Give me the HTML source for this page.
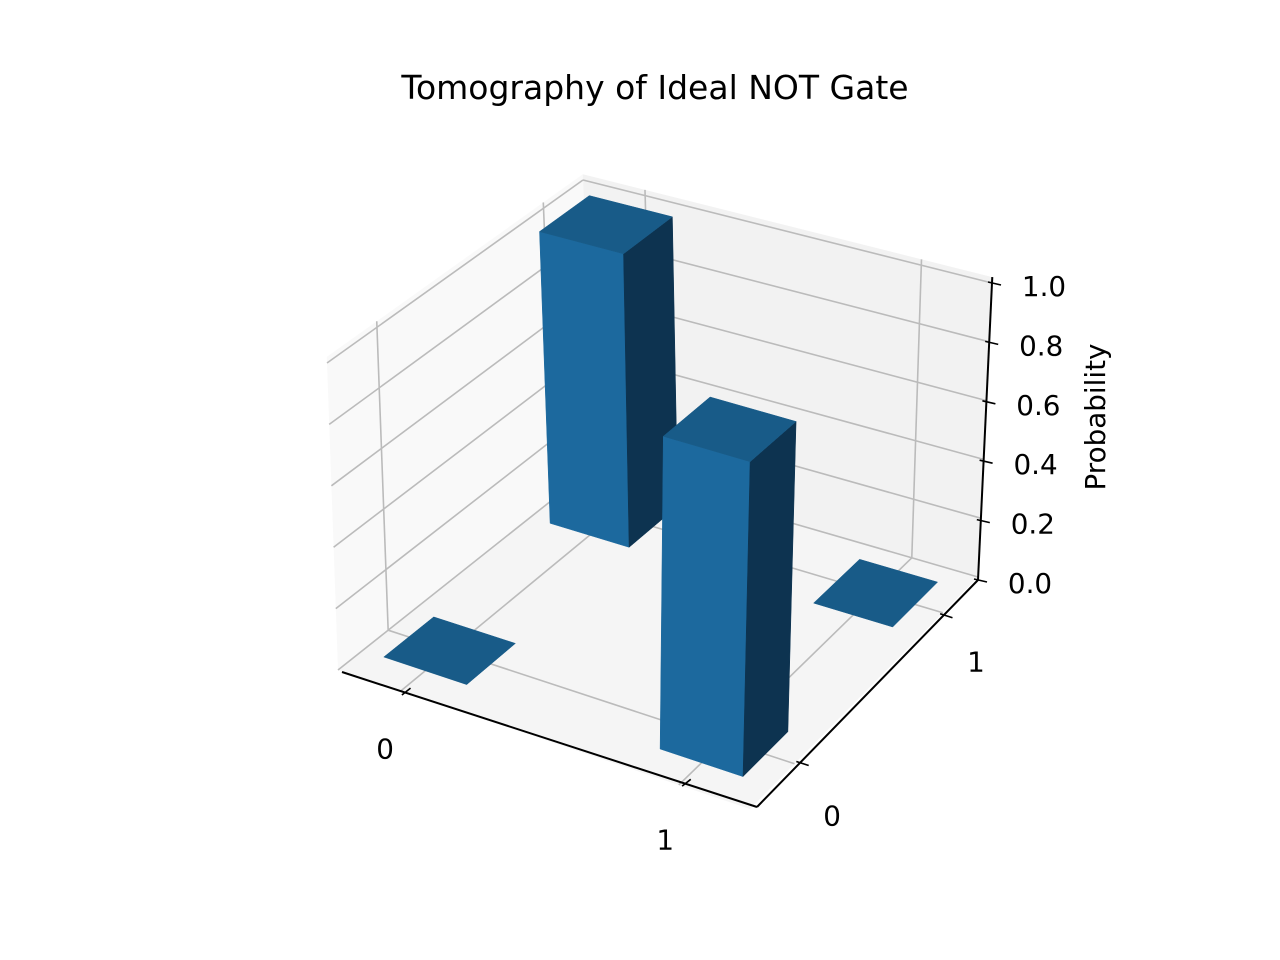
<!DOCTYPE html>
<html><head><meta charset="utf-8"><style>
html,body{margin:0;padding:0;background:#fff;}
svg{display:block;font-family:"DejaVu Sans","Liberation Sans",sans-serif;}
</style></head><body>
<svg id="chart" width="1280" height="960" viewBox="0 0 1280 960" xmlns="http://www.w3.org/2000/svg">
<rect width="1280" height="960" fill="#fff"/>
<text x="655" y="99" font-size="33" text-anchor="middle" fill="#000">Tomography of Ideal NOT Gate</text>
<g id="panes"></g>
<g id="grid"></g>
<g id="axes"></g>
<g id="bars"></g>
<text x="1105" y="417" font-size="27.8" text-anchor="middle" transform="rotate(-90 1105 417)">Probability</text>
</svg>
<script>
const xCategories = [0, 1];
const yCategories = [0, 1];
// probability[xIndex][yIndex]
const probability = [[0, 1], [1, 0]];
const xTickLabels = ["0", "1"];
const yTickLabels = ["0", "1"];
const zTicks = [0, 0.2, 0.4, 0.6, 0.8, 1.0];
const zTickLabels = ["0.0", "0.2", "0.4", "0.6", "0.8", "1.0"];

const XMIN = -0.225, XMAX = 1.256, YMIN = -0.3, YMAX = 1.237, ZTOP = 1.02;
const BAR_W = 0.3;
// screen corners of the axes box at z=0 and z=1
const A0=[338,670], B0=[750,809], C0=[978,577], D0=[595,466];
const A1=[327,363], B1=[758,491], C1=[992,283], D1=[583,180];
const NS = "http://www.w3.org/2000/svg";

function bil(P, Q, R, S, u, v) {
  const a=(1-u)*(1-v), b=u*(1-v), c=u*v, d=(1-u)*v;
  return [a*P[0]+b*Q[0]+c*R[0]+d*S[0], a*P[1]+b*Q[1]+c*R[1]+d*S[1]];
}
function proj(x, y, z) {
  const u=(x-XMIN)/(XMAX-XMIN), v=(y-YMIN)/(YMAX-YMIN);
  const p0=bil(A0,B0,C0,D0,u,v), p1=bil(A1,B1,C1,D1,u,v);
  return [p0[0]+(p1[0]-p0[0])*z, p0[1]+(p1[1]-p0[1])*z];
}
function lerp(p,q,t){return [p[0]+(q[0]-p[0])*t, p[1]+(q[1]-p[1])*t];}
function pts(list){return list.map(p=>p[0].toFixed(1)+","+p[1].toFixed(1)).join(" ");}
function mk(tag, attrs, parent){
  const el=document.createElementNS(NS, tag);
  for (const k in attrs) el.setAttribute(k, attrs[k]);
  parent.appendChild(el);
  return el;
}

const panes=document.getElementById('panes');
let el;
el = mk('polygon',{points:pts([proj(XMIN,YMIN,0),proj(XMIN,YMAX,0),proj(XMIN,YMAX,ZTOP),proj(XMIN,YMIN,ZTOP)]),fill:'#f9f9f9'},panes);


el = mk('polygon',{points:pts([proj(XMIN,YMAX,0),proj(XMAX,YMAX,0),proj(XMAX,YMAX,ZTOP),proj(XMIN,YMAX,ZTOP)]),fill:'#f2f2f2'},panes);


el = mk('polygon',{points:pts([proj(XMIN,YMIN,0),proj(XMAX,YMIN,0),proj(XMAX,YMAX,0),proj(XMIN,YMAX,0)]),fill:'#f5f5f5'},panes);



const grid=document.getElementById('grid');
const gs={stroke:'#bbbbbb','stroke-width':1.6,fill:'none'};
function gline(p,q,name){
  const l=mk('line',Object.assign({x1:p[0],y1:p[1],x2:q[0],y2:q[1]},gs),grid);
  
  
}
xCategories.forEach(x=>{
  gline(proj(x,YMIN,0),proj(x,YMAX,0),'x-gridline-floor');
  gline(proj(x,YMAX,0),proj(x,YMAX,ZTOP),'x-gridline-wall');
});
yCategories.forEach(y=>{
  gline(proj(XMIN,y,0),proj(XMAX,y,0),'y-gridline-floor');
  gline(proj(XMIN,y,0),proj(XMIN,y,ZTOP),'y-gridline-wall');
});
zTicks.forEach(z=>{
  gline(proj(XMIN,YMIN,z),proj(XMIN,YMAX,z),'z-gridline-left');
  gline(proj(XMIN,YMAX,z),proj(XMAX,YMAX,z),'z-gridline-back');
});

// axes
const axes=document.getElementById('axes');
const XA0=[342,672], XA1=[757,807], YA0=[757,807], YA1=[978,580];
const ZA0=[978,580], ZA1=[992,283];
function xAxisPt(x){return lerp(XA0,XA1,(x-XMIN)/(XMAX-XMIN));}
function yAxisPt(y){return lerp(YA0,YA1,(y-YMIN)/(YMAX-YMIN));}
function zAxisPt(z){return lerp(ZA0,ZA1,z);}
function aline(p,q,name,w){
  const l=mk('line',{x1:p[0],y1:p[1],x2:q[0],y2:q[1],stroke:'#000','stroke-width':w||2},axes);
  
  
}
function txt(p,s,name){
  const t=mk('text',{x:p[0],y:p[1]+10,'font-size':27.8,'text-anchor':'middle',fill:'#000'},axes);
  t.textContent=s;
  
  
}
aline(XA0,XA1,'x-axis-line');
aline(YA0,YA1,'y-axis-line');
aline(ZA0,zAxisPt(ZTOP),'z-axis-line');
const ux=[(XA1[0]-XA0[0]),(XA1[1]-XA0[1])], lx=Math.hypot(ux[0],ux[1]);
const dY=[(D0[0]-A0[0])/Math.hypot(D0[0]-A0[0],D0[1]-A0[1]),(D0[1]-A0[1])/Math.hypot(D0[0]-A0[0],D0[1]-A0[1])];
xCategories.forEach((x,i)=>{
  const p=xAxisPt(x);
  aline([p[0]-dY[0]*4,p[1]-dY[1]*4],[p[0]+dY[0]*7,p[1]+dY[1]*7],'x-tick',1.6);
  txt([p[0]-20,p[1]+56],xTickLabels[i],'x-tick-label');
});
yCategories.forEach((y,i)=>{
  const p=yAxisPt(y);
  const d=[ux[0]/lx,ux[1]/lx];
  const f=(y-YMIN)/(YMAX-YMIN);
  aline([p[0]-d[0]*4,p[1]-d[1]*4],[p[0]+d[0]*9,p[1]+d[1]*9],'y-tick',1.6);
  txt([p[0]+32,p[1]+55-10*f],yTickLabels[i],'y-tick-label');
});
zTicks.forEach((z,i)=>{
  const p=zAxisPt(z);
  aline([p[0]-4,p[1]-1],[p[0]+9,p[1]+2],'z-tick',1.6);
  txt([p[0]+52,p[1]+3],zTickLabels[i],'z-tick-label');
});

// bars
const barsG=document.getElementById('bars');
const barList=[];
xCategories.forEach((x,i)=>yCategories.forEach((y,j)=>barList.push({x:x,y:y,h:probability[i][j]})));
barList.sort((a,b)=>(b.y-b.x)-(a.y-a.x));
barList.forEach(b=>{
  const x0=b.x-BAR_W/2, x1=b.x+BAR_W/2, y0=b.y-BAR_W/2, y1=b.y+BAR_W/2, h=b.h;
  const g=mk('g',{},barsG);
  
  
  if (h>0){
    const f=mk('polygon',{points:pts([proj(x0,y0,0),proj(x1,y0,0),proj(x1,y0,h),proj(x0,y0,h)]),fill:'#1c699e',stroke:'#1c699e','stroke-width':0.5},g);
    
    
    const s=mk('polygon',{points:pts([proj(x1,y0,0),proj(x1,y1,0),proj(x1,y1,h),proj(x1,y0,h)]),fill:'#0d3350',stroke:'#0d3350','stroke-width':0.5},g);
    
    
  }
  const t=mk('polygon',{points:pts([proj(x0,y0,h),proj(x1,y0,h),proj(x1,y1,h),proj(x0,y1,h)]),fill:'#185b88',stroke:'#185b88','stroke-width':0.5},g);
  
  
});
</script>
</body></html>
